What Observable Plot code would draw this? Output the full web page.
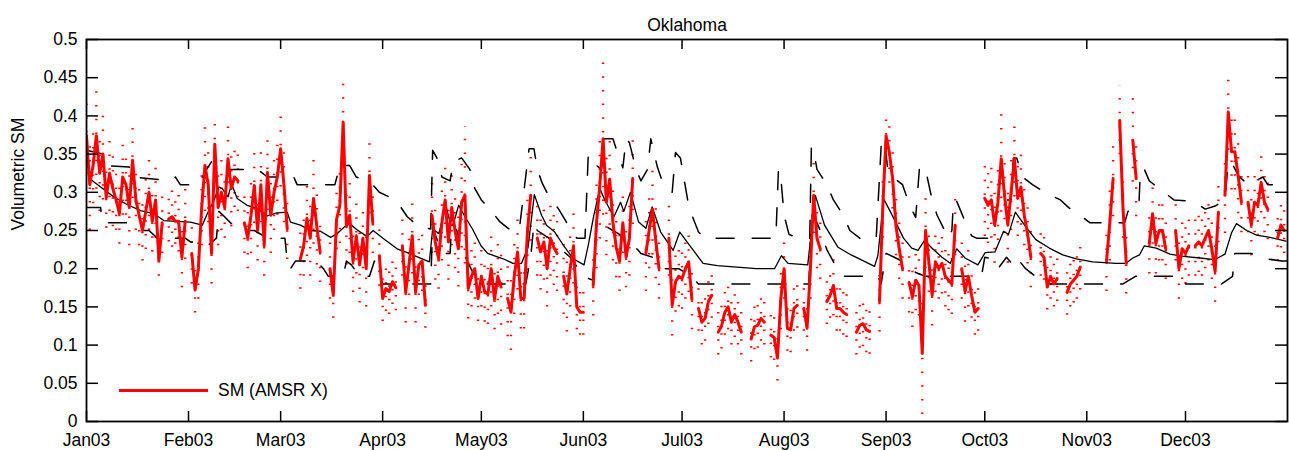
<!DOCTYPE html>
<html>
<head>
<meta charset="utf-8">
<script src="https://cdn.jsdelivr.net/npm/d3@7"></script>
<script src="https://cdn.jsdelivr.net/npm/@observablehq/plot@0.6"></script>
<style>
  html, body { margin: 0; padding: 0; background: #fff; }
  #wrap { position: relative; width: 1289px; height: 450px; font-family: "Liberation Sans", Arial, Helvetica, sans-serif; }
  #legend { position: absolute; left: 119px; top: 380px; height: 20px; display: flex; align-items: center; font-size: 17.5px; color: #000; }
  #legend .sw { width: 89px; height: 3px; background: #ff0000; margin-right: 10px; }
</style>
</head>
<body>
<div id="wrap">
  <div id="legend"><span class="sw"></span><span>SM (AMSR X)</span></div>
</div>
<script>
// ---------- DATA ----------
const chartTitle = "Oklahoma";
const yLabel = "Volumetric SM";
const legendLabel = "SM (AMSR X)";
const yearStart = [2003, 0, 1];
const yTicks = [0, 0.05, 0.1, 0.15, 0.2, 0.25, 0.3, 0.35, 0.4, 0.45, 0.5];
const monthTicks = ["2003-01-01","2003-02-01","2003-03-01","2003-04-01","2003-05-01","2003-06-01",
                    "2003-07-01","2003-08-01","2003-09-01","2003-10-01","2003-11-01","2003-12-01"];

// AMSR-E soil moisture, one value per day of 2003 (null = no retrieval)
const smValue = [
  // Jan
  .374,.31,.335,.374,.325,.35,.293,.325,.305,.29,.272,.32,.31,.28,.342,.29,.27,.25,.275,.30,.262,.29,.21,.26,null,.265,.268,.262,.262,.215,.262,
  // Feb
  null,.22,.172,.20,.28,.335,.31,.22,.363,.28,.30,.28,.344,.305,.32,.315,null,.26,.24,.27,.309,.25,.31,.23,.326,.27,.30,.32,
  // Mar
  .357,.31,.252,null,null,null,.213,.23,.266,.24,.292,.255,.222,null,null,.20,.165,.265,.283,.392,.255,.27,.209,.243,.205,.24,.20,.322,.26,null,.217,
  // Apr
  .161,.174,.17,.183,.175,null,.23,.169,.205,.243,.169,.205,.21,.152,null,.27,.235,.213,.26,.29,.235,.28,.25,.226,.287,.296,.174,.19,.20,.161,
  // May
  .19,.17,.167,.20,.16,.19,.176,null,.161,.143,.19,.222,.161,.161,.248,.296,null,.24,.222,.235,.20,.24,.228,.22,null,.19,.167,.20,.23,.15,.143,
  // Jun
  .143,null,null,.178,.26,.309,.37,.287,.317,.26,.228,.21,.26,.215,.24,.318,null,null,null,.22,.25,.278,.237,.20,null,null,.24,.152,.183,.19,
  // Jul
  .187,.20,.209,.16,null,.148,.13,.135,.157,.165,null,.117,.125,.143,.15,.13,.14,.13,.117,null,null,.108,.124,.126,.135,.13,null,.113,.11,.083,.16,
  // Aug
  .20,.122,.12,.148,.152,null,.148,.122,.20,.296,.24,.226,null,.157,.165,.178,.148,.148,.143,.14,null,null,.117,.126,.128,.12,.118,null,null,.157,.28,
  // Sep
  .374,.352,.318,.257,.226,.20,null,.182,.163,.185,.178,.089,.25,.209,.165,.209,.20,.207,.19,.185,.18,.257,null,.20,.17,.19,.165,.143,.148,null,
  // Oct
  .292,.283,.29,.257,.287,.344,.296,.257,.30,.344,.292,.307,.27,.246,.215,null,null,.22,.215,.176,.19,.18,.187,null,null,.169,.18,.185,.19,.202,null,
  // Nov
  null,null,null,null,null,null,.21,.26,.318,null,.394,.28,.207,null,.368,.318,null,null,null,.233,.272,.233,.25,.25,.226,null,null,.25,.20,.226,
  // Dec
  .22,.23,null,.23,.235,.23,.24,.25,.226,.196,.274,null,.296,.405,.353,.353,.322,.287,null,.287,.257,.287,.283,.313,.287,.278,null,null,.24,.257,.25
];

// retrieval uncertainty (half-width of the dotted error bars), same days
const smError = [
  // Jan
  .05,.06,.05,.07,.05,.06,.04,.05,.05,.04,.04,.05,.04,.05,.05,.04,.04,.04,.05,.05,.04,.05,.02,.04,null,.03,.04,.03,.04,.04,.05,
  // Feb
  null,.04,.03,.04,.05,.06,.05,.04,.03,.05,.05,.04,.05,.05,.04,.04,null,.04,.04,.05,.05,.04,.05,.04,.05,.05,.05,.05,
  // Mar
  .05,.05,.04,null,null,null,.04,.04,.05,.05,.06,.05,.04,null,null,.04,.03,.04,.05,.06,.05,.05,.04,.05,.05,.04,.05,.05,.04,null,.04,
  // Apr
  .03,.03,.03,.03,.03,null,.04,.04,.04,.05,.04,.04,.04,.03,null,.05,.05,.04,.05,.05,.05,.05,.05,.05,.06,.09,.04,.04,.04,.03,
  // May
  .04,.04,.04,.05,.04,.05,.05,null,.05,.05,.05,.05,.04,.04,.05,.06,null,.05,.05,.05,.05,.05,.05,.05,null,.05,.05,.05,.05,.03,.03,
  // Jun
  .03,null,null,.04,.06,.07,.10,.07,.06,.05,.04,.04,.04,.04,.05,.06,null,null,null,.05,.05,.06,.05,.04,null,null,.05,.04,.04,.04,
  // Jul
  .04,.04,.04,.04,null,.03,.03,.03,.03,.03,null,.03,.03,.03,.03,.03,.03,.03,.03,null,null,.03,.03,.03,.03,.03,null,.03,.03,.03,.04,
  // Aug
  .04,.03,.03,.03,.03,null,.03,.03,.04,.05,.04,.04,null,.03,.03,.04,.03,.03,.03,.03,null,null,.03,.03,.03,.03,.03,null,null,.04,.04,
  // Sep
  .035,.04,.04,.04,.04,.04,null,.04,.04,.04,.04,.08,.05,.04,.04,.04,.04,.04,.04,.04,.04,.04,null,.04,.04,.04,.03,.03,.03,null,
  // Oct
  .05,.05,.05,.05,.05,.07,.05,.05,.05,.05,.05,.05,.04,.04,.04,null,null,.03,.03,.03,.03,.03,.03,null,null,.03,.03,.03,.03,.03,null,
  // Nov
  null,null,null,null,null,null,.04,.05,.05,null,.045,.04,.04,null,.055,.05,null,null,null,.04,.04,.04,.04,.04,.04,null,null,.04,.04,.04,
  // Dec
  .04,.04,null,.04,.04,.04,.04,.04,.04,.04,.04,null,.05,.05,.05,.05,.05,.04,null,.04,.04,.04,.04,.04,.04,.04,null,null,.03,.03,.03
];

// model soil moisture: [day of year (0 = 1 Jan), value]
const modelSM = [
  [0,.361],[0.9,.318],[4.3,.307],[8.3,.294],[11.9,.285],[16.4,.276],[20.5,.272],[23.5,.263],[27.6,.262],[31.6,.261],
  [35.2,.257],[36.7,.272],[38.7,.289],[40.2,.307],[41.2,.305],[43,.294],[44.1,.311],[45.8,.292],[48.8,.283],[51.9,.279],
  [54.9,.269],[57.9,.273],[61,.274],[62,.261],[65,.257],[68.1,.25],[71.1,.249],[74.2,.241],[76.2,.246],[79.7,.26],
  [82.2,.251],[85.3,.242],[87.1,.25],[90.4,.239],[94.4,.226],[97.5,.221],[104.2,.209],[105.2,.252],[107.1,.246],[109.2,.283],
  [110.7,.257],[111.4,.257],[113.1,.283],[115.3,.266],[117.3,.252],[119.9,.23],[121.9,.22],[126.6,.213],[129.6,.207],[132.2,.207],
  [134.2,.228],[136.1,.297],[138.3,.27],[139.8,.257],[142.3,.248],[144.9,.231],[147.9,.213],[151.2,.205],[152.5,.231],[154,.266],
  [156,.305],[157.5,.29],[160.3,.268],[162.3,.287],[163.3,.275],[165.3,.30],[167.8,.261],[170,.253],[171.9,.281],[174.5,.248],
  [178.3,.224],[180.3,.248],[182.5,.235],[187.4,.207],[191.7,.204],[203.6,.2],[209.1,.2],[211.2,.217],[213.2,.207],[219.2,.205],
  [221.5,.296],[224.3,.257],[228.4,.228],[232.4,.218],[239.5,.203],[240.5,.217],[242.3,.291],[243.9,.278],[245.8,.262],[248.3,.24],
  [250.8,.227],[252.7,.224],[254.7,.237],[256.9,.227],[260,.215],[262.5,.207],[264.5,.226],[267,.214],[270.9,.205],[273.1,.221],
  [276.1,.222],[278.7,.249],[280.2,.245],[282.3,.274],[285.1,.257],[288.5,.238],[292.6,.227],[296.7,.218],[300.8,.213],[305.8,.209],
  [312.9,.207],[315.9,.207],[318,.214],[320,.218],[321.5,.23],[325.1,.227],[329.3,.219],[333.3,.216],[338.4,.214],[342.9,.212],
  [346,.219],[348,.247],[349.5,.259],[352.6,.25],[355.6,.244],[359.7,.241],[364.5,.236]
];

// model upper bound (dashed)
const modelUpper = [
  [0,.355],[5,.35],[5.3,.335],[13,.333],[14,.32],[25.5,.315],[27,.32],[28.5,.31],[34,.31],[36.5,.33],[38,.34],[42,.34],
  [43.5,.33],[52,.33],[55,.32],[63,.32],[64,.31],[75.5,.31],[77,.335],[80,.335],[82,.32],[87,.31],[89,.30],[94,.29],
  [97.5,.268],[101,.255],[104.6,.252],[105.2,.355],[106.5,.345],[108,.32],[110.5,.315],[111.5,.34],[114,.345],[116.5,.33],
  [118,.305],[120,.29],[123,.276],[125.5,.262],[129,.25],[131.5,.25],[134.5,.357],[136,.357],[137,.33],[138.5,.312],
  [140.5,.295],[143.5,.278],[146,.26],[149,.24],[151.5,.24],[152.5,.35],[155,.335],[156.5,.33],[157.5,.37],[160,.37],
  [161.5,.35],[163,.332],[164,.37],[165,.365],[167,.33],[168.5,.315],[170.5,.33],[171.5,.37],[173.5,.333],[175,.314],
  [178,.30],[179,.352],[180.5,.345],[182.7,.29],[184,.27],[186,.248],[188,.24],[209.5,.24],[210.3,.33],[211,.32],
  [212,.27],[213.5,.245],[216,.24],[219.8,.24],[220.3,.36],[221,.355],[222,.33],[225,.31],[227,.29],[230,.27],
  [232,.25],[235,.24],[240,.24],[241.5,.36],[242.5,.37],[243.5,.33],[246.5,.315],[248,.31],[250,.285],[252,.267],
  [253.2,.335],[255.5,.32],[257,.29],[258.5,.27],[260.8,.25],[262,.24],[263,.25],[263.5,.29],[264.3,.29],[267,.262],
  [269,.243],[270.5,.24],[275.7,.24],[277,.29],[281,.29],[281.7,.345],[282.7,.345],[284.5,.32],[287.5,.31],[292,.298],
  [296,.29],[298.5,.28],[302,.27],[305,.26],[315.5,.26],[316.5,.275],[319.8,.28],[320.3,.33],[321.5,.33],[323,.315],
  [327.5,.30],[330.5,.29],[336.6,.288],[340,.278],[343,.282],[346,.29],[347,.34],[348.5,.335],[350,.322],[353,.31],
  [357.5,.32],[359,.31],[365,.31]
];

// model lower bound (dashed)
const modelLower = [
  [0,.28],[4.3,.28],[4.7,.26],[13,.26],[17,.25],[19,.25],[21.5,.24],[30,.24],[31.6,.235],[36.8,.23],[39.5,.24],[40.2,.275],
  [41.5,.27],[43.8,.26],[47,.25],[51,.25],[55,.24],[60.3,.24],[61,.21],[62,.20],[63.5,.21],[70,.21],[72,.20],[73.5,.19],
  [78,.19],[79,.21],[80.5,.205],[83,.19],[86,.19],[87.5,.21],[88.5,.20],[90,.18],[104.6,.18],[105.2,.255],[108,.22],
  [110.5,.22],[111,.26],[112.5,.25],[114.6,.22],[118,.19],[120.7,.18],[133.5,.18],[135,.215],[136,.26],[137,.25],
  [140.5,.24],[143,.23],[147,.215],[149.5,.20],[151,.19],[153.8,.185],[155,.25],[156,.26],[160,.25],[162,.245],[163,.24],
  [167.5,.225],[168.5,.22],[172,.215],[175.4,.20],[180,.20],[183.8,.19],[186,.18],[219.5,.18],[220.5,.27],[221.5,.265],
  [223,.25],[225,.225],[227.5,.205],[230,.19],[240.5,.19],[241.5,.18],[243,.22],[245.5,.215],[250,.205],[252,.195],
  [255,.19],[272,.19],[273,.215],[275.3,.213],[277,.20],[279.6,.215],[281,.208],[282.4,.217],[283.5,.21],[285.4,.2],
  [288.4,.19],[291,.18],[315,.18],[318.8,.19],[333,.19],[334,.18],[345,.18],[348.3,.19],[349,.22],[354,.22],
  [358.4,.213],[363.2,.21],[365,.21]
];

// ---------- CHART ----------
const W = 1289, H = 450;
const mL = 86, mR = 2, mT = 39, mB = 29;
const innerW = W - mL - mR, innerH = H - mT - mB;
const t0 = Date.UTC(...yearStart);
const dayDate = d => new Date(t0 + d * 864e5);

const amsr = smValue.map((v, i) => ({date: dayDate(i), v, e: smError[i]}));
const amsrDefined = amsr.filter(d => d.v != null && d.e != null);
const months = monthTicks.map(s => new Date(s + "T00:00:00Z"));
const knot = a => a.map(([d, v]) => ({date: dayDate(d), v}));

const fontSize = 17.5;

const chart = Plot.plot({
  width: W, height: H,
  marginLeft: mL, marginRight: mR, marginTop: mT, marginBottom: mB,
  style: {fontFamily: '"Liberation Sans", Arial, Helvetica, sans-serif', fontSize: fontSize + "px", color: "#000", background: "#fff", overflow: "visible"},
  x: {type: "utc", domain: [dayDate(0), dayDate(365)]},
  y: {domain: [0, 0.5]},
  marks: [
    // dotted retrieval error bars
    Plot.ruleX(amsrDefined, {x: "date", y1: d => d.v - d.e, y2: d => d.v + d.e, stroke: "#ff0000", strokeWidth: 2.4, strokeDasharray: "1.5,12.2", clip: true}),
    // model bounds and model
    Plot.line(knot(modelUpper), {x: "date", y: "v", stroke: "#000", strokeWidth: 1.5, strokeDasharray: "18,18", clip: true}),
    Plot.line(knot(modelLower), {x: "date", y: "v", stroke: "#000", strokeWidth: 1.5, strokeDasharray: "18,18", clip: true}),
    Plot.line(knot(modelSM), {x: "date", y: "v", stroke: "#000", strokeWidth: 1.3, clip: true}),
    // AMSR-E soil moisture
    Plot.line(amsr, {x: "date", y: "v", stroke: "#ff0000", strokeWidth: 3, clip: true}),
    // inward ticks on all four sides
    Plot.tickX(months, {x: d => d, insetTop: innerH - 10, strokeWidth: 1.5}),
    Plot.tickX(months, {x: d => d, insetBottom: innerH - 10, strokeWidth: 1.5}),
    Plot.tickY(yTicks, {y: d => d, insetRight: innerW - 12, strokeWidth: 1.5}),
    Plot.tickY(yTicks, {y: d => d, insetLeft: innerW - 12, strokeWidth: 1.5}),
    // tick labels
    Plot.axisX({anchor: "bottom", ticks: months, tickSize: 0, tickPadding: 12, tickFormat: d3.utcFormat("%b%y"), fontSize, label: null}),
    Plot.axisY({anchor: "left", ticks: yTicks, tickSize: 0, tickPadding: 9, tickFormat: d3.format(""), fontSize, label: null}),
    // titles
    Plot.text([chartTitle], {text: d => d, frameAnchor: "top", dy: -21, fontSize}),
    Plot.text([yLabel], {text: d => d, frameAnchor: "left", dx: -68, rotate: -90, fontSize}),
    Plot.frame({stroke: "#000", strokeWidth: 1.8})
  ]
});
const wrap = document.getElementById("wrap");
wrap.insertBefore(chart, wrap.firstChild);
chart.style.position = "absolute";
chart.style.left = "0px";
chart.style.top = "0px";
document.querySelector("#legend span:last-child").textContent = legendLabel;
</script>
</body>
</html>
